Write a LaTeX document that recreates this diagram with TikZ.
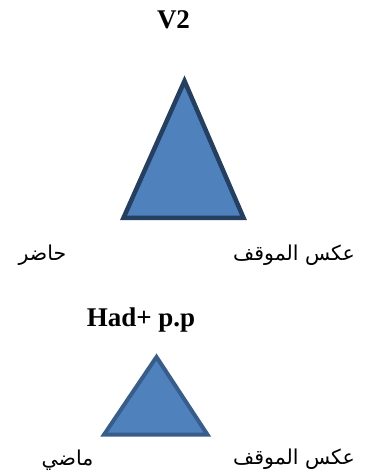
\documentclass[tikz,border=0pt]{standalone}
\usepackage{fontspec}
\setmainfont{Liberation Serif}
\newfontfamily\arabicfont[Script=Arabic]{DejaVu Sans}
\TeXXeTstate=1
\definecolor{trifill}{HTML}{4F81BD}
\definecolor{tridark}{HTML}{243F60}
\definecolor{trimid}{HTML}{385D8A}
\begin{document}
\begin{tikzpicture}[x=1pt,y=-1pt,
  ttl/.style={font=\fontsize{27}{30}\selectfont\bfseries, inner sep=0pt},
  ar/.style={font=\arabicfont\fontsize{20.5}{24}\selectfont, inner sep=0pt},
  tri/.style={fill=trifill, line join=miter}]
\useasboundingbox (0,0) rectangle (373,472);
% top
\node[ttl] (v2) at (173.5,20) {V2};
\coordinate (a1) at (184.5,81);
\coordinate (b1) at (123.5,217.8);
\coordinate (c1) at (243.5,217.8);
\draw[tri, draw=tridark, line width=4.5pt] (a1) -- (b1) -- (c1) -- cycle;
\node[ar] (h1) at (42.5,255) {\beginR حاضر\endR};
\node[ar] (k1) at (294,255) {\beginR عكس الموقف\endR};
% bottom
\node[ttl] (had) at (141,320) {Had+ p.p};
\coordinate (a2) at (156.5,357);
\coordinate (b2) at (104,434.7);
\coordinate (c2) at (207.5,434.7);
\draw[tri, draw=trimid, line width=4pt] (a2) -- (b2) -- (c2) -- cycle;
\node[ar] (m2) at (67.5,460) {\beginR ماضي\endR};
\node[ar] (k2) at (294,459) {\beginR عكس الموقف\endR};
\end{tikzpicture}
\end{document}
